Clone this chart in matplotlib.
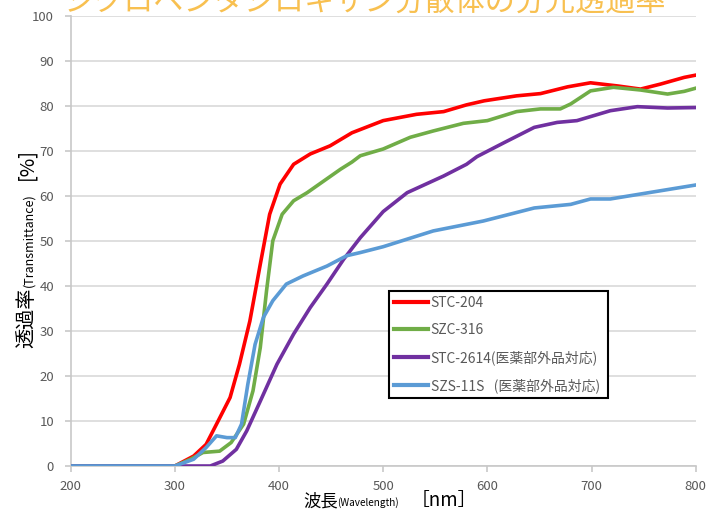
import matplotlib
matplotlib.use("Agg")
import matplotlib.pyplot as plt

plt.rcParams['font.family'] = ['Noto Sans CJK JP', 'DejaVu Sans']

wl_stc204 = [200, 250, 300, 318, 330, 340, 353, 362, 372, 382, 391, 401, 414, 430, 449, 470,
             500, 532, 558, 580, 597, 628, 651, 677, 699, 725, 747, 766, 789, 800]
t_stc204 = [0, 0, 0, 2.2, 4.8, 9.3, 15.2, 22.6, 32.2, 44.8, 55.9, 62.6, 67.0, 69.3, 71.1, 74.0,
            76.7, 78.1, 78.7, 80.2, 81.1, 82.2, 82.7, 84.2, 85.1, 84.4, 83.7, 84.8, 86.3, 86.8]

wl_szc316 = [200, 250, 300, 315, 327, 343, 354, 366, 375, 382, 388, 394, 403, 414, 427, 443,
             459, 470, 478, 500, 526, 548, 577, 600, 628, 651, 670, 680, 699, 721, 747, 773, 789, 800]
t_szc316 = [0, 0, 0, 1.5, 3.0, 3.3, 5.2, 9.3, 16.7, 26.3, 38.9, 50.0, 55.9, 58.9, 60.7, 63.3,
            65.9, 67.5, 68.9, 70.4, 73.0, 74.4, 76.1, 76.7, 78.7, 79.3, 79.3, 80.4, 83.3, 84.1,
            83.5, 82.6, 83.2, 83.9]

wl_stc2614 = [200, 250, 300, 334, 346, 359, 369, 382, 398, 414, 430, 446, 462, 478, 500, 523,
              558, 580, 590, 616, 645, 667, 686, 718, 744, 773, 800]
t_stc2614 = [0, 0, 0, 0, 1.1, 3.7, 7.8, 14.4, 22.6, 29.3, 35.2, 40.4, 45.9, 50.7, 56.5, 60.7,
             64.4, 67.0, 68.7, 71.8, 75.2, 76.3, 76.7, 78.9, 79.8, 79.5, 79.6]

wl_szs11s = [200, 250, 300, 318, 330, 340, 350, 358, 364, 370, 377, 385, 394, 407, 423, 446,
             465, 478, 500, 548, 596, 645, 680, 699, 718, 747, 800]
t_szs11s = [0, 0, 0, 1.5, 4.1, 6.7, 6.3, 6.3, 9.3, 18.1, 27.0, 33.0, 36.7, 40.4, 42.2, 44.4,
            46.7, 47.4, 48.7, 52.2, 54.4, 57.3, 58.1, 59.3, 59.3, 60.4, 62.4]

labels = ['STC-204', 'SZC-316', 'STC-2614(医薬部外品対応)', 'SZS-11S   (医薬部外品対応)']
colors = ['#FF0000', '#70AD47', '#7030A0', '#5B9BD5']
x_ticks = [200, 300, 400, 500, 600, 700, 800]
y_ticks = list(range(0, 101, 10))
title = 'シクロペンタシロキサン分散体の分光透過率'

W, H = 720, 517
fig = plt.figure(figsize=(W / 100, H / 100), dpi=100)
ax = fig.add_axes([70.7 / W, 1 - 466 / H, 625 / W, 450.3 / H])


def pos(x, y):
    return x / W, 1 - y / H


series = [(wl_stc204, t_stc204), (wl_szc316, t_szc316),
          (wl_stc2614, t_stc2614), (wl_szs11s, t_szs11s)]
for (xs, ys), lab, c in zip(series, labels, colors):
    ax.plot(xs, ys, color=c, lw=2.6, label=lab, solid_joinstyle='round', zorder=3)

ax.set_xlim(200, 800)
ax.set_ylim(0, 100)
ax.set_xticks(x_ticks)
ax.set_yticks(y_ticks)
ax.grid(axis='y', color='#D9D9D9', lw=1.2)
ax.set_axisbelow(True)
for s in ['top', 'right']:
    ax.spines[s].set_visible(False)
for s in ['left', 'bottom']:
    ax.spines[s].set_color('#C8C8C8')
    ax.spines[s].set_linewidth(1.2)
ax.tick_params(axis='both', colors='#C8C8C8', labelcolor='#595959', labelsize=9.5,
               length=4, width=1.2)
ax.tick_params(axis='x', pad=6)
ax.tick_params(axis='y', pad=8)

leg = ax.legend(loc='upper left', bbox_to_anchor=(0.498, 0.144, 0.373, 0.26), mode='expand',
                fontsize=10, frameon=True, fancybox=False, framealpha=1, handlelength=2.5,
                handletextpad=0.15, labelspacing=0.95, borderpad=0.35)
leg.set_zorder(10)
leg.get_frame().set_edgecolor('black')
leg.get_frame().set_linewidth(1.5)
for t in leg.get_texts():
    t.set_color('#595959')
for l in leg.get_lines():
    l.set_linewidth(3)

# title, clipped at the top edge like the reference
fig.text(*pos(365, 11), title, ha='center', va='baseline', fontsize=21.7, color='#F8C050')

# x label
fig.text(*pos(303, 506), '波長', ha='left', va='baseline', fontsize=12.5, color='black')
fig.text(*pos(337, 506), '(Wavelength)', ha='left', va='baseline', fontsize=7.2, color='black')
fig.text(*pos(411, 506), '［nm］', ha='left', va='baseline', fontsize=13.5, color='black')

# y label
kw = dict(rotation=90, rotation_mode='anchor', ha='left', va='baseline', color='black')
fig.text(*pos(32, 348), '透過率', fontsize=14.5, **kw)
fig.text(*pos(32, 287), '(Transmittance)', fontsize=9, **kw)
fig.text(*pos(32, 180), '[%]', fontsize=14.5, **kw)

fig.savefig('out.png', dpi=100)
